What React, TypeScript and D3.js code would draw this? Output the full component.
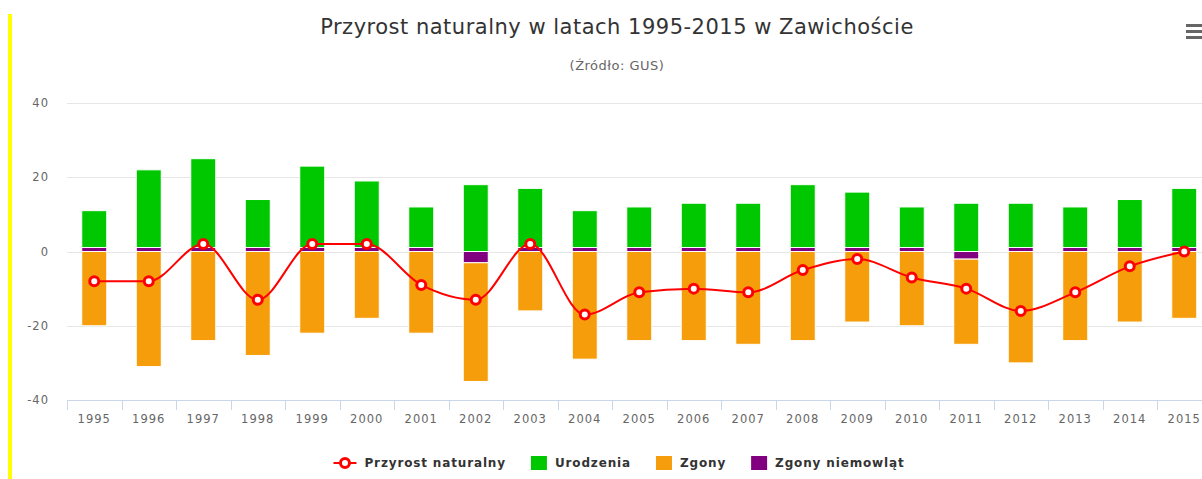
import React, { useRef, useEffect } from "react";
import * as d3 from "d3";

const years = [
    "1995", "1996", "1997", "1998", "1999", "2000", "2001", "2002", "2003", "2004", "2005",
    "2006", "2007", "2008", "2009", "2010", "2011", "2012", "2013", "2014", "2015",
];
const urodzenia = [11, 22, 25, 14, 23, 19, 12, 18, 17, 11, 12, 13, 13, 18, 16, 12, 13, 13, 12, 14, 17];
const zgony = [-20, -31, -24, -28, -22, -18, -22, -32, -16, -29, -24, -24, -25, -24, -19, -20, -23, -30, -24, -19, -18];
const zgonyNiemowlat = [0, 0, 0, 0, 0, 0, 0, -3, 0, 0, 0, 0, 0, 0, 0, 0, -2, 0, 0, 0, 0];
const przyrost = [-8, -8, 2, -13, 2, 2, -9, -13, 2, -17, -11, -10, -11, -5, -2, -7, -10, -16, -11, -4, 0];
const yTicks = [-40, -20, 0, 20, 40];

const FONT = "'DejaVu Sans', Verdana, sans-serif";

const App: React.FC = () => {
    const ref = useRef<SVGSVGElement | null>(null);

    useEffect(() => {
        document.body.style.margin = "0";
        const svg = d3.select(ref.current);
        svg.selectAll("*").remove();

        const width = 1202;
        const height = 479;
        const margin = { top: 103, left: 67, bottom: 400 };
        const plotRight = 1211.5;
        const centerX = 617;

        svg.attr("width", width).attr("height", height).style("font-family", FONT);

        // yellow side border of the page container
        svg.append("rect")
            .attr("x", 8)
            .attr("y", 14)
            .attr("width", 4)
            .attr("height", height - 14)
            .attr("fill", "#ffff00");

        const x = d3.scaleBand<string>().domain(years).range([margin.left, plotRight]);
        const y = d3.scaleLinear().domain([-40, 40]).range([margin.bottom, margin.top]);
        const barW = 25;
        const bx = (yr: string) => (x(yr) as number) + (x.bandwidth() - barW) / 2;
        const cx = (yr: string) => (x(yr) as number) + x.bandwidth() / 2;

        // grid
        svg.append("g")
            .selectAll("line")
            .data(yTicks.filter((t) => t !== -40))
            .enter()
            .append("line")
            .attr("x1", margin.left)
            .attr("x2", plotRight)
            .attr("y1", (d) => Math.round(y(d)) + 0.5)
            .attr("y2", (d) => Math.round(y(d)) + 0.5)
            .attr("stroke", "#e6e6e6");

        svg.append("g")
            .selectAll("text")
            .data(yTicks)
            .enter()
            .append("text")
            .attr("x", 49)
            .attr("y", (d) => y(d) + 4)
            .attr("text-anchor", "end")
            .style("font-size", "11.5px")
            .style("letter-spacing", "1px")
            .attr("fill", "#666")
            .text((d) => String(d));

        // columns
        const bars = svg.append("g");
        bars.selectAll(".uro")
            .data(years)
            .enter()
            .append("rect")
            .attr("x", (d) => bx(d))
            .attr("width", barW)
            .attr("y", (d, i) => y(urodzenia[i]))
            .attr("height", (d, i) => y(0) - y(urodzenia[i]))
            .attr("fill", "#00c800")
            .attr("stroke", "#fff")
            .attr("stroke-width", 1);

        bars.selectAll(".zg")
            .data(years)
            .enter()
            .append("rect")
            .attr("x", (d) => bx(d))
            .attr("width", barW)
            .attr("y", (d, i) => y(zgonyNiemowlat[i]))
            .attr("height", (d, i) => y(zgonyNiemowlat[i] + zgony[i]) - y(zgonyNiemowlat[i]))
            .attr("fill", "#f59d0a")
            .attr("stroke", "#fff")
            .attr("stroke-width", 1);

        const minLen = 4;
        bars.selectAll(".zn")
            .data(years)
            .enter()
            .append("rect")
            .attr("x", (d) => bx(d))
            .attr("width", barW)
            .attr("y", (d, i) => (zgonyNiemowlat[i] === 0 ? y(0) - minLen : y(0)))
            .attr("height", (d, i) =>
                zgonyNiemowlat[i] === 0 ? minLen : y(zgonyNiemowlat[i]) - y(0)
            )
            .attr("fill", "#800080")
            .attr("stroke", "#fff")
            .attr("stroke-width", 1);

        // x axis
        svg.append("line")
            .attr("x1", margin.left)
            .attr("x2", plotRight)
            .attr("y1", margin.bottom + 0.5)
            .attr("y2", margin.bottom + 0.5)
            .attr("stroke", "#ccd6eb");

        svg.append("g")
            .selectAll("line")
            .data(years)
            .enter()
            .append("line")
            .attr("x1", (d) => Math.round(x(d) as number) + 0.5)
            .attr("x2", (d) => Math.round(x(d) as number) + 0.5)
            .attr("y1", margin.bottom)
            .attr("y2", margin.bottom + 10)
            .attr("stroke", "#ccd6eb");

        svg.append("g")
            .selectAll("text")
            .data(years)
            .enter()
            .append("text")
            .attr("x", (d) => cx(d))
            .attr("y", margin.bottom + 23)
            .attr("text-anchor", "middle")
            .style("font-size", "11.5px")
            .style("letter-spacing", "1px")
            .attr("fill", "#666")
            .text((d) => d);

        // spline
        const line = d3
            .line<number>()
            .x((d, i) => cx(years[i]))
            .y((d) => y(d))
            .curve(d3.curveMonotoneX);

        svg.append("path")
            .datum(przyrost)
            .attr("fill", "none")
            .attr("stroke", "#f00")
            .attr("stroke-width", 2)
            .attr("d", line);

        svg.append("g")
            .selectAll("circle")
            .data(przyrost)
            .enter()
            .append("circle")
            .attr("cx", (d, i) => cx(years[i]))
            .attr("cy", (d) => y(d))
            .attr("r", 4.5)
            .attr("fill", "#fff")
            .attr("stroke", "#f00")
            .attr("stroke-width", 3);

        // titles
        svg.append("text")
            .attr("x", centerX)
            .attr("y", 34)
            .attr("text-anchor", "middle")
            .style("font-size", "21px")
            .style("letter-spacing", "0.5px")
            .attr("fill", "#333")
            .text("Przyrost naturalny w latach 1995-2015 w Zawichoście");

        svg.append("text")
            .attr("x", centerX)
            .attr("y", 70)
            .attr("text-anchor", "middle")
            .style("font-size", "13px")
            .style("letter-spacing", "0.5px")
            .attr("fill", "#666")
            .text("(Źródło: GUS)");

        // menu icon
        svg.append("g")
            .selectAll("rect")
            .data([0, 1, 2])
            .enter()
            .append("rect")
            .attr("x", 1186)
            .attr("y", (d) => 24 + d * 6)
            .attr("width", 18)
            .attr("height", 3)
            .attr("fill", "#666");

        // legend
        const legendItems = [
            { name: "Przyrost naturalny", color: "#f00", type: "line" },
            { name: "Urodzenia", color: "#00c800", type: "box" },
            { name: "Zgony", color: "#f59d0a", type: "box" },
            { name: "Zgony niemowląt", color: "#800080", type: "box" },
        ];
        const legend = svg.append("g");
        const ly = 463;
        let cursor = 0;
        legendItems.forEach((item, i) => {
            const g = legend.append("g");
            const symW = item.type === "line" ? 24 : 16;
            const gap = item.type === "line" ? 7 : 8;
            if (item.type === "line") {
                g.append("line")
                    .attr("x1", cursor)
                    .attr("x2", cursor + 23)
                    .attr("y1", ly)
                    .attr("y2", ly)
                    .attr("stroke", item.color)
                    .attr("stroke-width", 2);
                g.append("circle")
                    .attr("cx", cursor + 11.5)
                    .attr("cy", ly)
                    .attr("r", 4.5)
                    .attr("fill", "#fff")
                    .attr("stroke", item.color)
                    .attr("stroke-width", 3);
            } else {
                g.append("rect")
                    .attr("x", cursor)
                    .attr("y", ly - 7)
                    .attr("width", 16)
                    .attr("height", 14)
                    .attr("fill", item.color);
            }
            const t = g
                .append("text")
                .attr("x", cursor + symW + gap)
                .attr("y", ly + 4)
                .style("font-size", "12px")
                .style("font-weight", "bold")
                .style("letter-spacing", "0.85px")
                .attr("fill", "#333")
                .text(item.name);
            const tw = (t.node() as SVGTextElement).getComputedTextLength();
            cursor += symW + gap + tw + (i < legendItems.length - 1 ? 25 : 0);
        });
        legend.attr("transform", `translate(${619 - cursor / 2}, 0)`);

        return () => {
            d3.select(ref.current).selectAll("*").remove();
        };
    }, []);

    return (
        <div>
            <svg ref={ref}></svg>
        </div>
    );
};

export default App;
